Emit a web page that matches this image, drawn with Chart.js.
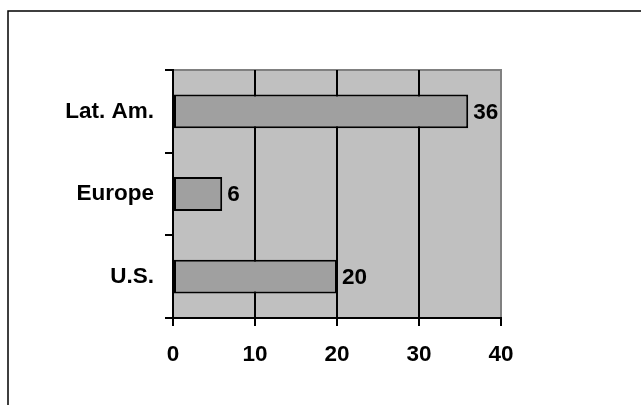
<!DOCTYPE html>
<html>
<head>
<meta charset="utf-8">
<script src="https://cdn.jsdelivr.net/npm/chart.js@4"></script>
<style>
  html, body { margin: 0; padding: 0; background: #fff; overflow: hidden; }
  #wrap { width: 641px; height: 405px; position: relative; }
</style>
</head>
<body>
<div id="wrap"><canvas id="c"></canvas></div>
<script>
const categories = ["Lat. Am.", "Europe", "U.S."];
const values = [36, 6, 20];
const xTicks = [0, 10, 20, 30, 40];

const FONT = "'Liberation Sans', Arial, sans-serif";
const FSIZE = 22.5;

const framePlugin = {
  id: 'frame',
  beforeDraw(chart) {
    const ctx = chart.ctx;
    const a = chart.chartArea;
    ctx.save();
    ctx.fillStyle = '#fff';
    ctx.fillRect(0, 0, chart.width, chart.height);
    ctx.strokeStyle = '#000';
    ctx.lineWidth = 1.5;
    ctx.strokeRect(8, 11, chart.width + 20, chart.height + 20);
    ctx.fillStyle = '#c0c0c0';
    ctx.fillRect(a.left, a.top, a.right - a.left, a.bottom - a.top);
    ctx.strokeStyle = '#808080';
    ctx.lineWidth = 2;
    ctx.beginPath();
    ctx.moveTo(a.left, a.top);
    ctx.lineTo(a.right, a.top);
    ctx.lineTo(a.right, a.bottom);
    ctx.stroke();
    ctx.restore();
  },
  afterDatasetsDraw(chart) {
    const ctx = chart.ctx;
    const meta = chart.getDatasetMeta(0);
    ctx.save();
    ctx.fillStyle = '#000';
    ctx.font = "bold " + FSIZE + "px " + FONT;
    ctx.textAlign = 'left';
    ctx.textBaseline = 'middle';
    meta.data.forEach((bar, i) => {
      ctx.fillText(String(values[i]), bar.x + 5, bar.y + 1);
    });
    ctx.restore();
  }
};

new Chart(document.getElementById('c'), {
  type: 'bar',
  data: {
    labels: categories,
    datasets: [{
      data: values,
      backgroundColor: '#a0a0a0',
      borderColor: '#000',
      borderWidth: 2,
      borderSkipped: false,
      categoryPercentage: 1,
      barPercentage: 0.41
    }]
  },
  plugins: [framePlugin],
  options: {
    indexAxis: 'y',
    responsive: true,
    maintainAspectRatio: false,
    animation: false,
    devicePixelRatio: 1,
    layout: { padding: { left: 0, top: 70, right: 140, bottom: 0 } },
    plugins: { legend: { display: false }, tooltip: { enabled: false }, title: { display: false } },
    scales: {
      x: {
        min: 0, max: 40,
        afterBuildTicks(s) { s.ticks = xTicks.map(v => ({ value: v })); },
        afterFit(s) { s.height = 87; },
        ticks: { color: '#000', font: { family: FONT, size: FSIZE, weight: 'bold' }, padding: 15, maxRotation: 0 },
        grid: {
          color: c => (c.tick && c.tick.value === 40) ? '#808080' : '#000',
          tickColor: '#000',
          lineWidth: 2,
          tickLength: 8,
          drawTicks: true
        },
        border: { display: true, color: '#000', width: 2 }
      },
      y: {
        afterFit(s) { s.width = 173; },
        ticks: { color: '#000', font: { family: FONT, size: FSIZE, weight: 'bold' }, padding: 11 },
        grid: {
          drawOnChartArea: false,
          drawTicks: true,
          tickLength: 8,
          color: '#000',
          lineWidth: 2,
          offset: true
        },
        border: { display: true, color: '#000', width: 2 }
      }
    }
  }
});
</script>
</body>
</html>
